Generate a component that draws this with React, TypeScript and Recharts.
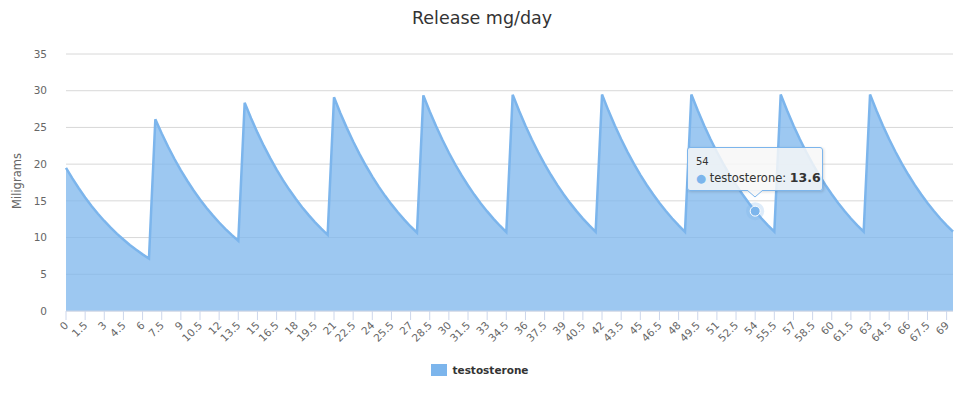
import React from "react";
import { AreaChart, Area, XAxis, YAxis, CartesianGrid, Tooltip, Legend } from "recharts";

// dose every 7 days, sampled every half day
const days = [
  0, 0.5, 1, 1.5, 2, 2.5, 3, 3.5, 4, 4.5, 5, 5.5, 6, 6.5,
  7, 7.5, 8, 8.5, 9, 9.5, 10, 10.5, 11, 11.5, 12, 12.5, 13, 13.5,
  14, 14.5, 15, 15.5, 16, 16.5, 17, 17.5, 18, 18.5, 19, 19.5, 20, 20.5,
  21, 21.5, 22, 22.5, 23, 23.5, 24, 24.5, 25, 25.5, 26, 26.5, 27, 27.5,
  28, 28.5, 29, 29.5, 30, 30.5, 31, 31.5, 32, 32.5, 33, 33.5, 34, 34.5,
  35, 35.5, 36, 36.5, 37, 37.5, 38, 38.5, 39, 39.5, 40, 40.5, 41, 41.5,
  42, 42.5, 43, 43.5, 44, 44.5, 45, 45.5, 46, 46.5, 47, 47.5, 48, 48.5,
  49, 49.5, 50, 50.5, 51, 51.5, 52, 52.5, 53, 53.5, 54, 54.5, 55, 55.5,
  56, 56.5, 57, 57.5, 58, 58.5, 59, 59.5, 60, 60.5, 61, 61.5, 62, 62.5,
  63, 63.5, 64, 64.5, 65, 65.5, 66, 66.5, 67, 67.5, 68, 68.5, 69, 69.5,
];

const testosterone = [
  19.5, 18.05, 16.71, 15.46, 14.31, 13.25, 12.26, 11.35, 10.51, 9.73, 9.0, 8.33, 7.71, 7.14,
  26.11, 24.17, 22.37, 20.7, 19.16, 17.74, 16.42, 15.2, 14.07, 13.02, 12.05, 11.16, 10.33, 9.56,
  28.35, 26.24, 24.29, 22.48, 20.81, 19.26, 17.83, 16.5, 15.28, 14.14, 13.09, 12.11, 11.21, 10.38,
  29.11, 26.94, 24.94, 23.08, 21.37, 19.78, 18.31, 16.94, 15.68, 14.52, 13.44, 12.44, 11.51, 10.66,
  29.36, 27.18, 25.16, 23.29, 21.55, 19.95, 18.47, 17.09, 15.82, 14.65, 13.56, 12.55, 11.61, 10.75,
  29.45, 27.26, 25.23, 23.36, 21.62, 20.01, 18.52, 17.14, 15.87, 14.69, 13.6, 12.58, 11.65, 10.78,
  29.48, 27.29, 25.26, 23.38, 21.64, 20.03, 18.54, 17.16, 15.89, 14.7, 13.61, 12.6, 11.66, 10.79,
  29.49, 27.3, 25.27, 23.39, 21.65, 20.04, 18.55, 17.17, 15.89, 14.71, 13.6, 12.6, 11.66, 10.8,
  29.49, 27.3, 25.27, 23.39, 21.65, 20.04, 18.55, 17.17, 15.89, 14.71, 13.61, 12.6, 11.67, 10.8,
  29.49, 27.3, 25.27, 23.39, 21.65, 20.04, 18.55, 17.17, 15.89, 14.71, 13.61, 12.6, 11.67, 10.8,
];

const xTicks = [
  0, 1.5, 3, 4.5, 6, 7.5, 9, 10.5, 12, 13.5, 15, 16.5, 18, 19.5, 21, 22.5, 24, 25.5,
  27, 28.5, 30, 31.5, 33, 34.5, 36, 37.5, 39, 40.5, 42, 43.5, 45, 46.5, 48, 49.5,
  51, 52.5, 54, 55.5, 57, 58.5, 60, 61.5, 63, 64.5, 66, 67.5, 69,
];
const yTicks = [0, 5, 10, 15, 20, 25, 30, 35];

const data = days.map((d, i) => ({ day: d, testosterone: testosterone[i] }));

const FONT = '"DejaVu Sans", "Lucida Grande", Arial, sans-serif';
const COLOR = "#7cb5ec";

function XTick(props: any) {
  const { x, y, payload } = props;
  const tx = x + 3;
  const ty = y + 4;
  return (
    <text
      x={tx}
      y={ty}
      transform={`rotate(-45 ${tx} ${ty})`}
      textAnchor="end"
      fill="#666"
      fontSize={10.5}
      fontFamily={FONT}
    >
      {payload.value}
    </text>
  );
}

function ActiveDot(props: any) {
  const { cx, cy } = props;
  return (
    <g>
      <circle cx={cx} cy={cy} r={9} fill={COLOR} fillOpacity={0.25} />
      <circle cx={cx} cy={cy} r={5} fill={COLOR} stroke="#fff" strokeWidth={1} />
    </g>
  );
}

function TipBox({ active, payload, label }: any) {
  if (!active || !payload || !payload.length) return null;
  return (
    <div style={{ position: "relative", fontFamily: FONT }}>
      <div
        style={{
          width: 136,
          height: 44,
          boxSizing: "border-box",
          background: "rgba(247,247,247,0.85)",
          border: `1px solid ${COLOR}`,
          borderRadius: 3,
          boxShadow: "1px 1px 3px rgba(0,0,0,0.15)",
          padding: "8px 8px",
          color: "#333",
        }}
      >
        <div style={{ fontSize: 10, lineHeight: "12px" }}>{label}</div>
        <div style={{ fontSize: 11.5, lineHeight: "16px", marginTop: 2, whiteSpace: "nowrap" }}>
          <span style={{ color: COLOR }}>●</span> testosterone:{" "}
          <b style={{ fontSize: 12.5 }}>{payload[0].value.toFixed(1)}</b>
        </div>
      </div>
      <svg width={16} height={9} style={{ position: "absolute", left: 60, top: 43 }}>
        <path d="M0 0 L8 7 L16 0" fill="rgba(247,247,247,0.95)" stroke={COLOR} strokeWidth={1} />
      </svg>
    </div>
  );
}

function LegendBox() {
  return (
    <div
      style={{
        display: "flex",
        justifyContent: "center",
        alignItems: "center",
        fontFamily: FONT,
        paddingRight: 14,
      }}
    >
      <span style={{ display: "inline-block", width: 16, height: 12, background: COLOR, marginRight: 5 }} />
      <span style={{ fontSize: 10.5, fontWeight: "bold", color: "#333" }}>testosterone</span>
    </div>
  );
}

export default function App() {
  return (
    <div style={{ position: "absolute", left: 0, top: 0, width: 974, height: 397, background: "#fff" }}>
      <div
        style={{
          position: "absolute",
          left: 0,
          top: 8,
          width: 964,
          textAlign: "center",
          fontFamily: FONT,
          fontSize: 17.5,
          color: "#333",
        }}
      >
        Release mg/day
      </div>
      <AreaChart width={974} height={397} data={data} margin={{ top: 54, right: 21, bottom: 24, left: 10 }}>
        <CartesianGrid vertical={false} stroke="#d8d8d8" />
        <XAxis
          dataKey="day"
          type="number"
          domain={[0, 69.5]}
          ticks={xTicks}
          interval={0}
          height={50}
          stroke="#ccd6eb"
          tickSize={9}
          tickMargin={2}
          tick={<XTick />}
        />
        <YAxis
          type="number"
          domain={[0, 35]}
          ticks={yTicks}
          width={56}
          axisLine={false}
          tickLine={false}
          tickSize={0}
          tickMargin={19}
          tick={{ fill: "#666", fontSize: 10.5, fontFamily: FONT }}
          label={() => (
            <text
              x={21}
              y={181}
              transform="rotate(-90 21 181)"
              textAnchor="middle"
              fill="#666"
              fontSize={11.5}
              fontFamily={FONT}
            >
              Miligrams
            </text>
          )}
        />
        <Tooltip
          content={<TipBox />}
          defaultIndex={108}
          active
          cursor={false}
          position={{ x: 687, y: 147 }}
          isAnimationActive={false}
          wrapperStyle={{ outline: "none" }}
        />
        <Legend
          content={<LegendBox />}
          wrapperStyle={{ position: "absolute", left: 0, top: 364, width: 974 }}
        />
        <Area
          type="linear"
          dataKey="testosterone"
          stroke={COLOR}
          strokeWidth={2.5}
          fill={COLOR}
          fillOpacity={0.75}
          dot={false}
          activeDot={<ActiveDot />}
          isAnimationActive={false}
        />
      </AreaChart>
    </div>
  );
}
